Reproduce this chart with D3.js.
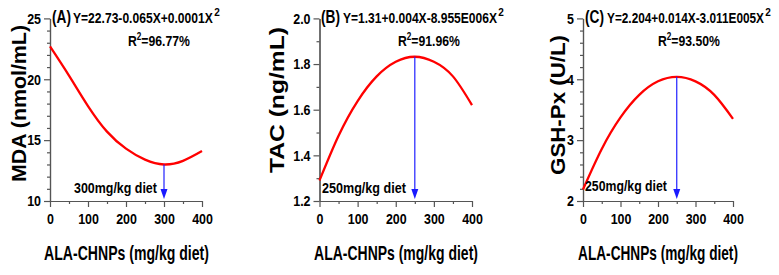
<!DOCTYPE html>
<html><head><meta charset="utf-8">
<script src="https://cdn.jsdelivr.net/npm/d3@7"></script>
<style>
body{margin:0;background:#fff;}
text{font-family:"Liberation Sans Narrow","Arial Narrow","Liberation Sans",Arial,sans-serif;font-weight:bold;fill:#000;}
</style></head>
<body><svg id="c" width="779" height="275"></svg>
<script>
// ---- data ----
const doses = [0, 50, 100, 150, 200, 250, 300, 350, 400];
const mdaValues = [22.7, 20.3, 17.8, 15.7, 14.3, 13.4, 13.0, 13.3, 14.1];
const tacValues = [1.29, 1.486, 1.638, 1.746, 1.81, 1.832, 1.81, 1.746, 1.62];
const gshValues = [2.19, 2.856, 3.374, 3.744, 3.966, 4.04, 3.966, 3.744, 3.35];
const xTicks = [0, 100, 200, 300, 400];
const xMinorTicks = [50, 150, 250, 350];
const mdaTicks = [10, 15, 20, 25];
const mdaMinor = [11,12,13,14,16,17,18,19,21,22,23,24];
const tacTicks = [1.2, 1.4, 1.6, 1.8, 2.0];
const tacMinor = [1.3, 1.5, 1.7, 1.9];
const gshTicks = [2, 3, 4, 5];
const gshMinor = [2.2,2.4,2.6,2.8,3.2,3.4,3.6,3.8,4.2,4.4,4.6,4.8];
const optimum = [300, 250, 250];
const panelLetters = ["(A)", "(B)", "(C)"];
const equations = ["Y=22.73-0.065X+0.0001X", "Y=1.31+0.004X-8.955E006X", "Y=2.204+0.014X-3.011E005X"];
const r2Labels = ["96.77%", "91.96%", "93.50%"];
const optimumLabels = ["300mg/kg diet", "250mg/kg diet", "250mg/kg diet"];
const yTitles = ["MDA (nmol/mL)", "TAC (ng/mL)", "GSH-Px (U/L)"];
const xTitle = "ALA-CHNPs (mg/kg diet)";

const panels = [
  {vals: mdaValues, dom:[10,25], ticks: mdaTicks, minor: mdaMinor, fmt: d3.format("d"),
   x0:50, x1:202, letterX:52, eqX:73, eqW:140, r2X:128, labX:74, labW:83, labY:193,
   xtX:126.5, xtW:165, ytX:26, ytY:103.5, ytW:157},
  {vals: tacValues, dom:[1.2,2.0], ticks: tacTicks, minor: tacMinor, fmt: d3.format(".1f"),
   x0:319.5, x1:472, letterX:321, eqX:343, eqW:154, r2X:398, labX:322, labW:84, labY:193,
   xtX:396, xtW:164, ytX:284, ytY:100, ytW:146},
  {vals: gshValues, dom:[2,5], ticks: gshTicks, minor: gshMinor, fmt: d3.format("d"),
   x0:583, x1:733, letterX:585, eqX:607, eqW:157, r2X:658, labX:585, labW:82, labY:191,
   xtX:658, xtW:160, ytX:565, ytY:105, ytW:140}
];

const svg = d3.select("#c");
const yTop = 18.4, yBot = 201;
const axisColor = "#555";

// place a text at (x,y), horizontally scaled so its width is w
function fitText(parent, x, y, w, size, anchor, rot) {
  const t = parent.append("text").style("font-size", size + "px").attr("text-anchor", anchor || "start");
  t.fit = function() {
    const L = this.node().getBBox().width;
    const s = L > 0 ? w / L : 1;
    this.attr("transform", `translate(${x},${y})${rot ? " rotate(" + rot + ")" : ""} scale(${s},1)`);
    return this;
  };
  return t;
}

panels.forEach((p, i) => {
  const x = d3.scaleLinear().domain([0, 400]).range([p.x0, p.x1]);
  const y = d3.scaleLinear().domain(p.dom).range([yBot, yTop]);
  const g = svg.append("g");

  const yMin = g.append("g").attr("transform", `translate(${p.x0},0)`)
    .call(d3.axisLeft(y).tickValues(p.minor).tickSize(3).tickFormat("").tickSizeOuter(0));
  const xMin = g.append("g").attr("transform", `translate(0,${yBot})`)
    .call(d3.axisBottom(x).tickValues(xMinorTicks).tickSize(3).tickFormat("").tickSizeOuter(0));
  const yAx = g.append("g").attr("transform", `translate(${p.x0},0)`)
    .call(d3.axisLeft(y).tickValues(p.ticks).tickSize(6).tickPadding(3).tickFormat(p.fmt).tickSizeOuter(0));
  const xAx = g.append("g").attr("transform", `translate(0,${yBot})`)
    .call(d3.axisBottom(x).tickValues(xTicks).tickSize(6).tickPadding(6).tickFormat(d3.format("d")).tickSizeOuter(0));
  [yMin, xMin, yAx, xAx].forEach(a => {
    a.selectAll("path,line").attr("stroke", axisColor).attr("stroke-width", 1.2);
    a.selectAll("text").style("font-size", "15px").attr("fill", "#000");
  });
  const cs = 0.83;
  yAx.selectAll("text").attr("x", -9 / cs).attr("transform", `scale(${cs},1)`);
  xAx.selectAll("text").attr("transform", `scale(${cs},1)`);

  const line = d3.line().x((d, k) => x(doses[k])).y(d => y(d)).curve(d3.curveNatural);
  g.append("path").datum(p.vals).attr("d", line)
    .attr("fill", "none").attr("stroke", "#ff0000").attr("stroke-width", 2.3);

  const xo = x(optimum[i]);
  const yv = y(p.vals[doses.indexOf(optimum[i])]);
  const tipY = yBot - 2;
  g.append("line").attr("x1", xo).attr("x2", xo).attr("y1", yv).attr("y2", tipY - 8)
    .attr("stroke", "#2020ff").attr("stroke-width", 1.2);
  g.append("path").attr("d", `M${xo-3.5},${tipY-10}L${xo+3.5},${tipY-10}L${xo},${tipY}Z`).attr("fill", "#1a1aff");

  fitText(g, p.labX, p.labY, p.labW, 15).text(optimumLabels[i]).fit();
  fitText(g, p.letterX, 23, 19, 18).text(panelLetters[i]).fit();
  fitText(g, p.eqX, 23, p.eqW, 15).text(equations[i]).fit();
  g.append("text").attr("x", p.eqX + p.eqW + 1.2).attr("y", 16).style("font-size", "10px").text("2");
  const r2 = fitText(g, p.r2X, 46, 62, 15);
  r2.append("tspan").text("R");
  r2.append("tspan").attr("dy", -6).style("font-size", "10px").text("2");
  r2.append("tspan").attr("dy", 6).text("=" + r2Labels[i]);
  r2.fit();

  fitText(g, p.xtX, 260, p.xtW, 20, "middle").text(xTitle).fit();
  fitText(g, p.ytX, p.ytY, p.ytW, 20, "middle", -90)
    .style("font-family", "'Liberation Sans',Arial,sans-serif").text(yTitles[i]).fit();
});
</script></body></html>
